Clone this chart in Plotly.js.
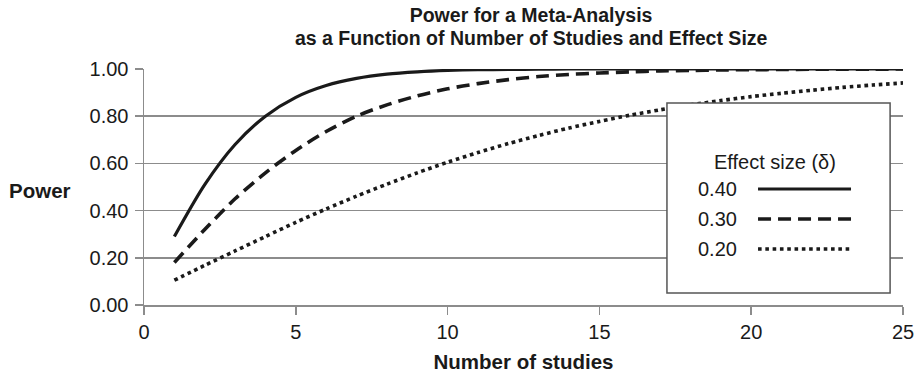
<!DOCTYPE html>
<html>
<head>
<meta charset="utf-8">
<script src="https://cdn.plot.ly/plotly-3.0.1.min.js"></script>
<style>
  html, body { margin: 0; padding: 0; background: #ffffff; }
  #chart { width: 916px; height: 373px; }
</style>
</head>
<body>
<div id="chart"></div>
<script>
// ---- Data ----
const studies = [1,2,3,4,5,6,7,8,9,10,11,12,13,14,15,16,17,18,19,20,21,22,23,24,25];
const power040 = [0.29,0.51,0.68,0.80,0.88,0.93,0.96,0.978,0.988,0.994,0.997,0.998,0.999,1.0,1.0,1.0,1.0,1.0,1.0,1.0,1.0,1.0,1.0,1.0,1.0];
const power030 = [0.18,0.32,0.45,0.56,0.655,0.735,0.80,0.848,0.886,0.916,0.938,0.955,0.968,0.977,0.983,0.988,0.992,0.994,0.996,0.997,0.998,0.999,0.999,0.999,1.0];
const power020 = [0.105,0.168,0.229,0.29,0.35,0.407,0.461,0.512,0.56,0.605,0.646,0.684,0.718,0.75,0.778,0.804,0.827,0.848,0.866,0.883,0.897,0.91,0.922,0.932,0.941];

const effectLabels = ["0.40", "0.30", "0.20"];
const titleLines = ["Power for a Meta-Analysis", "as a Function of Number of Studies and Effect Size"];
const legendTitle = "Effect size (\u03B4)";
const xTitle = "Number of studies";
const yTitle = "Power";
const yTicks = [0, 0.2, 0.4, 0.6, 0.8, 1.0];
const yTickText = ["0.00", "0.20", "0.40", "0.60", "0.80", "1.00"];
const xTicks = [0, 5, 10, 15, 20, 25];

// ---- Styles ----
const FONT = "Liberation Sans, Arial, Helvetica, sans-serif";
const INK = "#1a1a1a";
const GRID = "#8c8c8c";
const TXT = 20;
const BOLD = 20.5;
const TITLE = 19.5;
const seriesStyle = [
  { width: 3.2, dash: "solid" },
  { width: 3.6, dash: "13px,7px" },
  { width: 3.6, dash: "3.6px,3.7px" }
];
const seriesY = [power040, power030, power020];

const traces = seriesY.map((ys, i) => ({
  type: "scatter",
  mode: "lines",
  x: studies,
  y: ys,
  name: effectLabels[i],
  showlegend: false,
  line: { color: INK, width: seriesStyle[i].width, dash: seriesStyle[i].dash, shape: "spline", smoothing: 0.8 },
  hoverinfo: "x+y+name"
}));

// Custom legend box (paper coordinates)
const L = { x0: 0.689, x1: 0.983, y0: 0.051, y1: 0.856 };
const rowsY = [0.4915, 0.3644, 0.2373];
const shapes = [
  { type: "rect", xref: "paper", yref: "paper", x0: L.x0, x1: L.x1, y0: L.y0, y1: L.y1,
    fillcolor: "#ffffff", line: { color: "#555555", width: 1.5 }, layer: "above" }
];
const annotations = [
  { xref: "paper", yref: "paper", x: 0.51, y: (305 - 38) / 236, text: "<b>" + titleLines[1] + "</b>", showarrow: false,
    xanchor: "center", yanchor: "middle", font: { family: FONT, size: TITLE, color: INK } },
  { xref: "paper", yref: "paper", x: 0.831, y: 0.607, text: legendTitle, showarrow: false,
    xanchor: "center", yanchor: "middle", font: { family: FONT, size: TXT, color: INK } },
  { xref: "paper", yref: "paper", x: -0.137, y: 0.484, text: "<b>" + yTitle + "</b>", showarrow: false,
    xanchor: "center", yanchor: "middle", font: { family: FONT, size: BOLD, color: INK } }
];
effectLabels.forEach((lab, i) => {
  annotations.push({ xref: "paper", yref: "paper", x: 0.784, y: rowsY[i], text: lab, showarrow: false,
    xanchor: "right", yanchor: "middle", font: { family: FONT, size: TXT, color: INK } });
  shapes.push({ type: "line", xref: "paper", yref: "paper", x0: 0.809, x1: 0.9315, y0: rowsY[i], y1: rowsY[i],
    line: { color: INK, width: seriesStyle[i].width, dash: seriesStyle[i].dash }, layer: "above" });
});

const layout = {
  width: 916,
  height: 373,
  margin: { l: 144, r: 13, t: 69, b: 68, pad: 0 },
  paper_bgcolor: "#ffffff",
  plot_bgcolor: "#ffffff",
  font: { family: FONT, size: TXT, color: INK },
  showlegend: false,
  title: {
    text: "<b>" + titleLines[0] + "</b>",
    font: { family: FONT, size: TITLE, color: INK },
    x: 0.51, xref: "paper", xanchor: "center",
    y: 1 - 15 / 373, yref: "container", yanchor: "middle"
  },
  xaxis: {
    range: [0, 25],
    tickvals: xTicks,
    ticktext: xTicks.map(String),
    ticks: "outside", ticklen: 8, tickwidth: 1.5, tickcolor: GRID,
    showline: true, linecolor: GRID, linewidth: 1.5,
    showgrid: false, zeroline: false,
    tickfont: { family: FONT, size: TXT, color: INK },
    title: { text: "<b>" + xTitle + "</b>", font: { family: FONT, size: BOLD, color: INK }, standoff: 14 }
  },
  yaxis: {
    range: [0, 1.0],
    tickvals: yTicks,
    ticktext: yTickText,
    ticks: "outside", ticklen: 8, tickwidth: 1.5, tickcolor: GRID,
    ticklabelstandoff: 2,
    showline: true, linecolor: GRID, linewidth: 1.5,
    showgrid: true, gridcolor: GRID, gridwidth: 1.5,
    zeroline: false,
    tickfont: { family: FONT, size: TXT, color: INK }
  },
  shapes: shapes,
  annotations: annotations
};

Plotly.newPlot("chart", traces, layout, { displayModeBar: false, staticPlot: true });
</script>
</body>
</html>
